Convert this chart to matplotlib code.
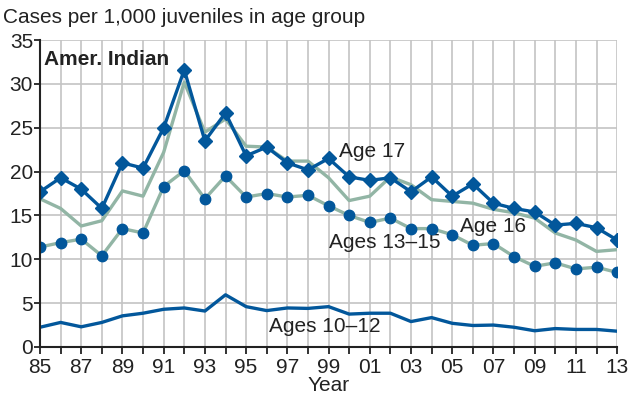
import matplotlib
matplotlib.use("Agg")
import matplotlib.pyplot as plt
import numpy as np

years = list(range(1985, 2014))
age17 = [17.7, 19.3, 18.0, 15.8, 21.0, 20.4, 25.0, 31.6, 23.5, 26.7, 21.8, 22.8, 21.0, 20.2, 21.5,
         19.4, 19.0, 19.3, 17.7, 19.4, 17.2, 18.6, 16.4, 15.8, 15.4, 13.9, 14.1, 13.6, 12.2]
age16 = [16.9, 15.8, 13.8, 14.4, 17.8, 17.2, 22.2, 30.2, 24.5, 26.0, 22.9, 22.8, 21.2, 21.2, 19.3,
         16.7, 17.2, 19.4, 18.5, 16.8, 16.6, 16.4, 15.7, 15.3, 14.7, 13.0, 12.2, 10.9, 11.1]
age13_15 = [11.4, 11.9, 12.3, 10.4, 13.5, 13.0, 18.3, 20.1, 16.9, 19.5, 17.1, 17.5, 17.1, 17.3, 16.1,
            15.0, 14.2, 14.7, 13.5, 13.5, 12.8, 11.6, 11.8, 10.3, 9.2, 9.6, 8.9, 9.1, 8.5]
age10_12 = [2.25, 2.8, 2.3, 2.8, 3.55, 3.85, 4.3, 4.45, 4.1, 5.95, 4.6, 4.15, 4.45, 4.4, 4.6,
            3.75, 3.85, 3.85, 2.9, 3.35, 2.7, 2.45, 2.5, 2.25, 1.85, 2.1, 2.0, 2.0, 1.8]
tick_years = list(range(1985, 2014, 2))

plt.rcParams['font.family'] = ['Liberation Sans', 'DejaVu Sans']
BLUE = '#02579b'
GREEN = '#92b5a5'
TXT = '#222222'
FS = 15

fig = plt.figure(figsize=(6.31, 3.97), dpi=100)
ax = fig.add_axes([0.0634, 0.126, 0.9146, 0.773])

ax.plot(years, age16, color=GREEN, lw=2.4, zorder=3)
ax.plot(years, age13_15, color=GREEN, lw=2.4, zorder=3)
ax.plot(years, age13_15, ls='none', marker='o', ms=7.5, color=BLUE, zorder=4)
ax.plot(years, age17, color=BLUE, lw=2.4, marker='D', ms=6.8, zorder=5)
ax.plot(years, age10_12, color=BLUE, lw=2.4, zorder=3)

ax.set_xlim(1985, 2013)
ax.set_ylim(0, 35)
ax.set_xticks(years)
ax.set_xticklabels([f"{y % 100:02d}" if y in tick_years else "" for y in years])
ax.set_yticks(range(0, 36, 5))
ax.grid(True, color='#c4c4c4', lw=1.2, zorder=0)
ax.set_axisbelow(True)
for s in ['top', 'right']:
    ax.spines[s].set_visible(False)
for s in ['left', 'bottom']:
    ax.spines[s].set_color(TXT)
    ax.spines[s].set_linewidth(1.5)
    ax.spines[s].set_zorder(6)
ax.tick_params(axis='both', labelsize=FS, colors=TXT, length=5, width=1.3, direction='out')
ax.tick_params(axis='x', pad=3)
ax.tick_params(axis='y', length=4, pad=1)

ax.set_xlabel('Year', fontsize=FS, color=TXT, labelpad=-1)
fig.text(0.005, 0.955, 'Cases per 1,000 juveniles in age group', fontsize=FS, color=TXT, va='center', ha='left')

ax.text(1985.2, 32.8, 'Amer. Indian', fontsize=FS, fontweight='bold', color=TXT, va='center', ha='left')
ax.text(1999.5, 22.3, 'Age 17', fontsize=FS, color=TXT, va='center', ha='left')
ax.text(2005.4, 13.7, 'Age 16', fontsize=FS, color=TXT, va='center', ha='left')
ax.text(1999.0, 11.9, 'Ages 13–15', fontsize=FS, color=TXT, va='center', ha='left')
ax.text(1996.1, 2.3, 'Ages 10–12', fontsize=FS, color=TXT, va='center', ha='left')

fig.savefig('out.png', dpi=100)
